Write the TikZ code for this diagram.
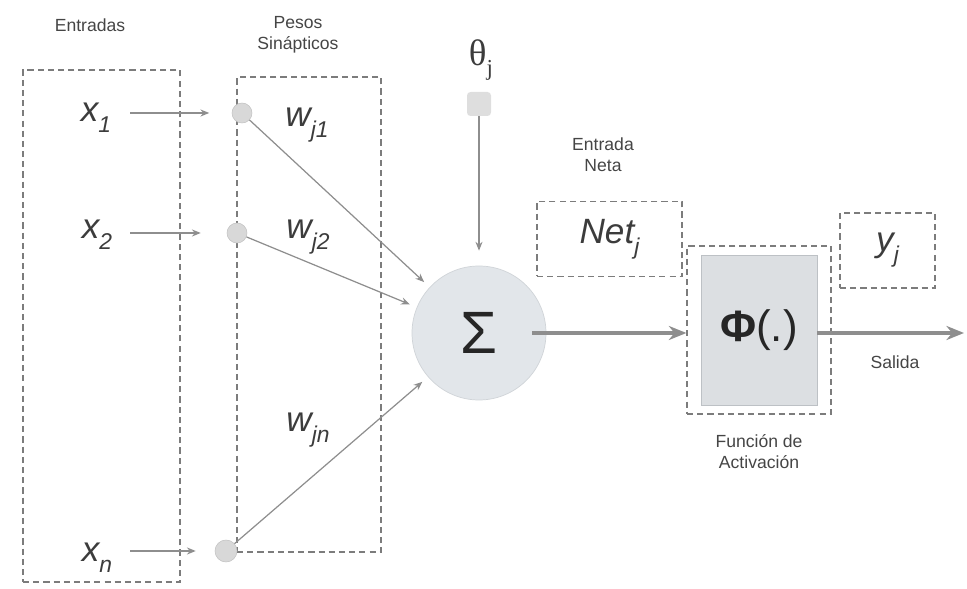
\documentclass[tikz,border=0pt]{standalone}
\usepackage{fontspec}
\setmainfont{Liberation Sans}
\newfontfamily\grserif{Liberation Serif}
\usepackage{tikz}
\usetikzlibrary{arrows.meta,positioning,calc}
\definecolor{LineGray}{HTML}{8E8E8E}
\definecolor{BoxGray}{HTML}{7C7C7C}
\definecolor{TextGray}{HTML}{454545}
\definecolor{VarGray}{HTML}{3C3C3C}
\definecolor{DotGray}{HTML}{D8D8D8}
\definecolor{SumFill}{HTML}{E2E6EA}
\definecolor{SumLine}{HTML}{D0D4D8}
\definecolor{ActFill}{HTML}{DCDFE2}
\definecolor{ActLine}{HTML}{BDC1C5}
\newcommand{\lowsub}[1]{\raisebox{-0.6ex}{\fontsize{13}{13}\selectfont #1}}
\tikzset{
  DB/.style={draw=BoxGray,dash pattern=on 3.5pt off 2.3pt,line width=0.7pt,inner sep=0pt},
  DT/.style={circle,fill=DotGray,draw=DotGray!90!black,line width=0.3pt,
             minimum size=0.4cm,inner sep=0pt},
  arr/.style={-{Stealth[length=5pt,width=4pt]},draw=LineGray,line width=0.7pt},
  TA/.style={-{Stealth[length=10pt,width=8pt]},draw=LineGray,line width=2.2pt},
  LB/.style={font=\fontsize{10}{12}\selectfont,text=TextGray,align=center},
  VR/.style={font=\fontsize{20}{24}\selectfont\itshape,text=VarGray,inner sep=0pt}
}
\begin{document}
\begin{tikzpicture}
  \useasboundingbox (0,0) rectangle (19.34,11.78);
  % dashed groups
  \node[DB,minimum width=3.14cm,minimum height=10.24cm] (inbox) at (2.03,5.26) {};
  \node[DB,minimum width=2.88cm,minimum height=9.50cm] (wbox) at (6.18,5.49) {};
  \node[LB] (lin) at (1.80,11.28) {Entradas};
  \node[LB] (lw) at (5.96,11.08) {Pesos\\Sinápticos};

  % inputs and weights
  \node[DT] (d1) at (4.84,9.52) {};
  \node[DT] (d2) at (4.74,7.12) {};
  \node[DT,minimum size=0.44cm] (dn) at (4.52,0.76) {};
  \node[VR] (x1) at (1.92,9.42) {x\lowsub{1}};
  \node[VR] (x2) at (1.94,7.08) {x\lowsub{2}};
  \node[VR] (xn) at (1.94,0.62) {x\lowsub{n}};
  \node[VR] (w1) at (6.14,9.28) {w\lowsub{j1}};
  \node[VR] (w2) at (6.16,7.04) {w\lowsub{j2}};
  \node[VR] (wn) at (6.16,3.18) {w\lowsub{jn}};

  % neuron
  \node[circle,fill=SumFill,draw=SumLine,minimum size=2.68cm,inner sep=0pt,
        font=\fontsize{34}{34}\selectfont,text=black!85] (sum) at (9.58,5.12) {Σ};
  \node[fill=DotGray!85,minimum size=0.48cm,inner sep=0pt,rounded corners=2pt] (bias) at (9.58,9.70) {};
  \node[font=\grserif\fontsize{21}{24}\selectfont,text=VarGray] (th) at (9.62,10.58) {θ\lowsub{j}};

  % net input, activation, output
  \node[LB] (lnet) at (12.06,8.68) {Entrada\\Neta};
  \node[DB,VR,minimum width=2.90cm,minimum height=1.50cm] (net) at (12.19,7.00) {Net\lowsub{j}};
  \node[DB,minimum width=2.88cm,minimum height=3.36cm] (act) at (15.18,5.18) {};
  \node[fill=ActFill,draw=ActLine,minimum width=2.32cm,minimum height=3.00cm,
        font=\fontsize{25}{25}\selectfont,text=black!85] (phi) at (act) {\textbf{Φ}(.)};
  \node[LB,below=0.28cm of act] (lfa) {Función de\\Activación};
  \node[DB,VR,minimum width=1.90cm,minimum height=1.50cm] (yj) at (17.75,6.77) {y\lowsub{j}};
  \node[LB] (sal) at (17.90,4.54) {Salida};
  \coordinate (out) at (19.28,5.12);

  \draw[arr,shorten <=0.38cm,shorten >=0.45cm] (x1.east |- d1) -- (d1);
  \draw[arr,shorten <=0.36cm,shorten >=0.52cm] (x2.east |- d2) -- (d2);
  \draw[arr,shorten <=0.36cm,shorten >=0.38cm] (xn.east |- dn) -- (dn);
  \draw[arr,shorten >=0.15cm] (d1) -- (sum);
  \draw[arr,shorten >=0.15cm] (d2) -- (sum);
  \draw[arr,shorten >=0.15cm] (dn) -- (sum);
  \draw[arr,shorten >=0.3cm] (bias) -- (sum);
  \draw[TA,shorten <=-0.28cm] (sum) -- (sum -| act.west);
  \draw[TA] (phi.east |- out) -- (out);
\end{tikzpicture}
\end{document}
